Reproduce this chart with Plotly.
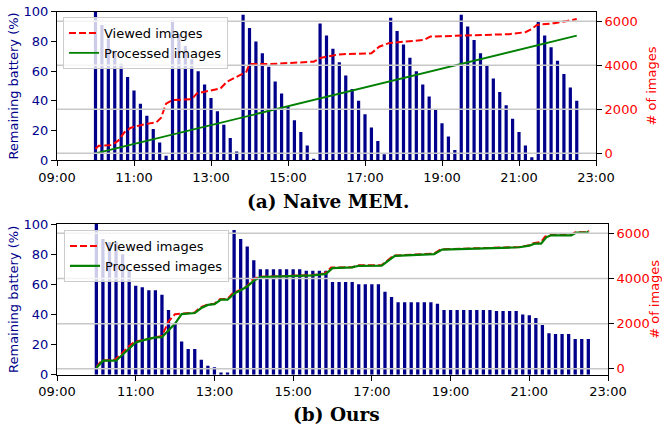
import plotly.graph_objects as go
import pandas as pd

DAY = "2024-01-01 "

# ---------------- data ----------------
bar_times = [t.strftime("%Y-%m-%d %H:%M") for t in pd.date_range(DAY + "10:00", DAY + "22:30", freq="10min")]

battery_naive = [
    100, 91, 82, 73, 65, 56, 47, 38, 30, 21, 12, 3,
    94, 85, 77, 68, 60, 51, 42, 33, 24, 15, 6,
    98, 89, 80, 72, 63, 53, 45, 36, 27, 19, 10, 1,
    92, 84, 75, 66, 57, 48, 40, 31, 22, 13, 4,
    96, 87, 78, 69, 60, 51, 43, 34, 25, 16, 7,
    98, 90, 81, 72, 64, 55, 46, 37, 28, 19, 10, 2,
    93, 84, 76, 67, 58, 49, 40,
]

battery_ours = [
    100, 90, 88, 88, 80, 69,
    59, 58, 56, 56, 53, 43,
    34, 22, 17, 17, 10, 6,
    5, 1.5, 1.5, 96, 90, 85,
    76, 70, 70, 70, 70, 70,
    70, 70, 69, 69, 69, 69,
    61.5, 61.5, 61.5, 61.5, 60, 60,
    60, 60, 55, 51.5, 48, 48,
    48, 48, 48, 48, 47, 43,
    43, 43, 43, 43, 43, 43,
    43, 42.3, 42.3, 42.3, 42.3, 40,
    39.4, 37.6, 33, 27.5, 27, 27,
    27, 23.7, 23.7, 23.7,
]

naive_viewed_t = ["10:00", "10:05", "10:25", "10:35", "10:45", "10:55", "11:15", "11:35", "11:42",
                  "11:50", "12:00", "12:30", "12:38", "12:55", "13:15", "13:25", "13:45", "13:55",
                  "14:00", "14:30", "15:40", "15:52", "16:15", "16:25", "17:10", "17:22", "17:37",
                  "18:15", "18:32", "18:42", "19:30", "20:45", "21:10", "21:20", "21:28", "21:55",
                  "22:15", "22:30"]
naive_viewed = [200, 340, 370, 560, 950, 1160, 1310, 1410, 1600,
                2250, 2420, 2450, 2720, 2830, 2950, 3250, 3560, 3700,
                4050, 4050, 4160, 4340, 4470, 4500, 4540, 4840, 5000,
                5100, 5150, 5300, 5340, 5410, 5500, 5650, 5830, 5910,
                6010, 6100]

naive_proc_t = ["10:00", "13:00", "15:00", "19:00", "22:30"]
naive_proc = [0, 1280, 2130, 3850, 5340]

ours_proc_t = ["10:00", "10:10", "10:30", "10:40", "10:50", "11:00", "11:15", "11:30", "11:40",
               "11:50", "12:00", "12:10", "12:30", "12:40", "12:50", "13:00", "13:10", "13:20",
               "13:30", "13:40", "13:50", "14:00", "14:10", "15:30", "15:50", "16:00", "16:30",
               "16:40", "17:15", "17:35", "18:05", "18:35", "18:47", "20:45", "21:00", "21:08",
               "21:18", "21:26", "21:33", "22:04", "22:12", "22:28", "22:30"]
ours_proc = [40, 360, 360, 620, 920, 1170, 1290, 1390, 1400,
             1720, 2000, 2420, 2470, 2690, 2830, 2860, 3060, 3060,
             3330, 3480, 3640, 3900, 4060, 4140, 4200, 4460, 4490,
             4560, 4570, 5000, 5030, 5080, 5280, 5380, 5450, 5540,
             5540, 5820, 5910, 5910, 6030, 6030, 6090]

ours_viewed_t = ["10:00", "10:08", "10:28", "10:38", "10:48", "10:58", "11:15", "11:30", "11:40",
                 "11:50", "12:00", "12:10", "12:30", "12:38", "12:50", "13:00", "13:08", "13:20",
                 "13:28", "13:40", "13:50", "13:58", "14:08", "15:30", "15:48", "15:58", "16:30",
                 "16:38", "17:15", "17:33", "18:05", "18:35", "18:45", "20:45", "21:00", "21:06",
                 "21:18", "21:24", "21:33", "22:04", "22:10", "22:28", "22:31"]
ours_viewed = [80, 370, 400, 650, 960, 1190, 1300, 1400, 1450,
               2100, 2420, 2440, 2490, 2710, 2850, 2880, 3080, 3090,
               3350, 3500, 3660, 3950, 4070, 4150, 4220, 4480, 4500,
               4580, 4590, 5010, 5050, 5100, 5290, 5390, 5470, 5560,
               5620, 5850, 5920, 5930, 6040, 6050, 6120]

x_ticks = ["09:00", "11:00", "13:00", "15:00", "17:00", "19:00", "21:00", "23:00"]
img_ticks = [0, 2000, 4000, 6000]


def ts(lst):
    return [DAY + t for t in lst]


# ---------------- styles ----------------
W, H = 662, 427
BAR_C = "#00008B"
TICKF = dict(family="DejaVu Sans", size=13, color="black")
DASH = "7px,3px"

fig = go.Figure()

# top: naive
fig.add_bar(x=bar_times, y=battery_naive, xaxis="x", yaxis="y", marker_color=BAR_C,
            marker_line_width=0, width=5 * 60 * 1000, showlegend=False)
fig.add_scatter(x=ts(naive_viewed_t), y=naive_viewed, xaxis="x", yaxis="y2", mode="lines",
                line=dict(color="red", dash=DASH, width=2), name="Viewed images", legend="legend")
fig.add_scatter(x=ts(naive_proc_t), y=naive_proc, xaxis="x", yaxis="y2", mode="lines",
                line=dict(color="green", width=1.8), name="Processed images", legend="legend")

# bottom: ours
fig.add_bar(x=bar_times, y=battery_ours, xaxis="x2", yaxis="y3", marker_color=BAR_C,
            marker_line_width=0, width=5 * 60 * 1000, showlegend=False)
fig.add_scatter(x=ts(ours_viewed_t), y=ours_viewed, xaxis="x2", yaxis="y4", mode="lines",
                line=dict(color="red", dash=DASH, width=2), name="Viewed images", legend="legend2")
fig.add_scatter(x=ts(ours_proc_t), y=ours_proc, xaxis="x2", yaxis="y4", mode="lines",
                line=dict(color="green", width=2.2), name="Processed images", legend="legend2")

xcommon = dict(type="date", range=[DAY + "09:00", DAY + "23:00"], tickvals=ts(x_ticks),
               ticktext=x_ticks, showline=True, linecolor="black", linewidth=1, mirror=True,
               ticks="outside", ticklen=5, tickcolor="black", tickfont=TICKF, showgrid=False,
               zeroline=False, automargin=False)
ycommon = dict(range=[0, 100], tickvals=[0, 20, 40, 60, 80, 100], showline=True, linecolor="black",
               linewidth=1, ticks="outside", ticklen=5, tickcolor="black",
               tickfont=dict(family="DejaVu Sans", size=13, color=BAR_C), showgrid=False,
               zeroline=False, automargin=False,
               title=dict(text="Remaining battery (%)", font=dict(family="DejaVu Sans", size=13, color=BAR_C),
                          standoff=2))
rcommon = dict(side="right", tickvals=img_ticks, showline=True, linecolor="black", linewidth=1,
               ticks="outside", ticklen=5, tickcolor="black",
               tickfont=dict(family="DejaVu Sans", size=13, color="red"), showgrid=False,
               zeroline=False, automargin=False,
               title=dict(text="# of images", font=dict(family="DejaVu Sans", size=13, color="red"),
                          standoff=10))

top_dom = [1 - 160.3 / H, 1 - 11.7 / H]
bot_dom = [1 - 374.7 / H, 1 - 224 / H]

fig.update_layout(
    width=W, height=H, margin=dict(l=0, r=0, t=0, b=0),
    paper_bgcolor="white", plot_bgcolor="white",
    xaxis=dict(domain=[57 / W, 596 / W], anchor="y", **xcommon),
    yaxis=dict(domain=top_dom, anchor="x", **ycommon),
    yaxis2=dict(overlaying="y", anchor="x", range=[-320, 6430], **rcommon),
    xaxis2=dict(domain=[57 / W, 608 / W], anchor="y3", **xcommon),
    yaxis3=dict(domain=bot_dom, anchor="x2", **ycommon),
    yaxis4=dict(overlaying="y3", anchor="x2", range=[-260, 6410], **rcommon),
    legend=dict(x=63 / W, y=1 - 17 / H, xanchor="left", yanchor="top",
                bgcolor="rgba(255,255,255,0.8)", bordercolor="#cccccc", borderwidth=1,
                font=dict(family="DejaVu Sans", size=13, color="black"), tracegroupgap=0,
                itemwidth=30),
    legend2=dict(x=64 / W, y=1 - 230 / H, xanchor="left", yanchor="top",
                 bgcolor="rgba(255,255,255,0.8)", bordercolor="#cccccc", borderwidth=1,
                 font=dict(family="DejaVu Sans", size=13, color="black"), tracegroupgap=0,
                 itemwidth=30),
    showlegend=True,
)

# horizontal grid of the image axes (drawn above the bars like matplotlib's twin axis)
shapes = []
for v in img_ticks:
    shapes.append(dict(type="line", xref="x domain", x0=0, x1=1, yref="y2", y0=v, y1=v,
                       layer="above", line=dict(color="#c8c8c8", width=1.5)))
    shapes.append(dict(type="line", xref="x2 domain", x0=0, x1=1, yref="y4", y0=v, y1=v,
                       layer="above", line=dict(color="#c8c8c8", width=1.5)))
fig.update_layout(shapes=shapes)

fig.add_annotation(text="<b>(a) Naive MEM.</b>", x=328 / W, y=1 - 201.7 / H, xref="paper", yref="paper",
                   xanchor="center", yanchor="middle", showarrow=False,
                   font=dict(family="DejaVu Serif", size=18.5, color="black"))
fig.add_annotation(text="<b>(b) Ours</b>", x=336.7 / W, y=1 - 414 / H, xref="paper", yref="paper",
                   xanchor="center", yanchor="middle", showarrow=False,
                   font=dict(family="DejaVu Serif", size=18.5, color="black"))

fig.write_html("out.html", config={"displayModeBar": False},
               post_script="document.body.style.margin='0px';document.body.style.overflow='hidden';")
